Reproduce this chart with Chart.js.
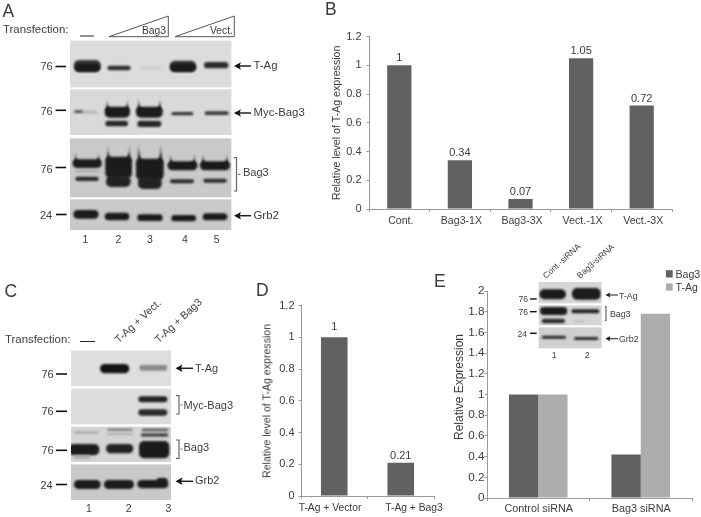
<!DOCTYPE html>
<html><head><meta charset="utf-8">
<script src="https://cdn.jsdelivr.net/npm/chart.js@4"></script>
<style>
html,body{margin:0;padding:0;background:#fff;}
#page{position:relative;width:701px;height:517px;overflow:hidden;font-family:"Liberation Sans",Arial,sans-serif;color:#3c3c3c;filter:blur(0.35px);}
canvas{position:absolute;}
.t{position:absolute;white-space:nowrap;line-height:1;}
</style></head><body><div id="page">
<canvas id="chartB"></canvas>
<canvas id="chartD"></canvas>
<canvas id="chartE"></canvas>
<canvas id="blots" width="701" height="517" style="left:0;top:0"></canvas>
</div>
<script>
// ---- data ----
const categoriesB = ['Cont.', 'Bag3-1X', 'Bag3-3X', 'Vect.-1X', 'Vect.-3X'];
const valuesB = [1, 0.34, 0.07, 1.05, 0.72];
const categoriesD = ['T-Ag + Vector', 'T-Ag + Bag3'];
const valuesD = [1, 0.21];
const categoriesE = ['Control siRNA', 'Bag3 siRNA'];
const bag3E = [1, 0.42];
const tagE = [1, 1.78];
const ticks12 = ['0', '0.2', '0.4', '0.6', '0.8', '1', '1.2'];
const ticks20 = ['0', '0.2', '0.4', '0.6', '0.8', '1', '1.2', '1.4', '1.6', '1.8', '2'];
const yTitleExpr = 'Relative level of T-Ag expression';
const yTitleRel = 'Relative Expression';
const DARK = '#616161', LIGHT = '#adadad', AXIS = '#9a9a9a', TXT = '#3c3c3c';
const FONT = '"Liberation Sans", Arial, sans-serif';

const valueLabels = {
  id: 'valueLabels',
  afterDatasetsDraw(chart, args, opts) {
    if (!opts.show) return;
    const ctx = chart.ctx; ctx.save();
    ctx.font = '11px ' + FONT; ctx.fillStyle = TXT;
    ctx.textAlign = 'center'; ctx.textBaseline = 'alphabetic';
    chart.getDatasetMeta(0).data.forEach((bar, i) => {
      ctx.fillText(String(chart.data.datasets[0].data[i]), bar.x, bar.y - opts.gaps[i]);
    });
    ctx.restore();
  }
};

function makeChart(id, box, plot, labels, datasets, o) {
  const c = document.getElementById(id);
  c.width = box.w; c.height = box.h;
  c.style.width = box.w + 'px'; c.style.height = box.h + 'px';
  c.style.left = box.left + 'px'; c.style.top = box.top + 'px';
  return new Chart(c, {
    type: 'bar',
    data: { labels, datasets },
    plugins: [valueLabels],
    options: {
      responsive: false, animation: false, devicePixelRatio: 1,
      layout: { padding: { left: 0, bottom: 0, top: plot.top - box.top, right: box.left + box.w - plot.right } },
      plugins: { legend: { display: false }, tooltip: { enabled: false }, title: { display: false },
        valueLabels: { show: !!o.gaps, gaps: o.gaps || [] } },
      datasets: { bar: { barPercentage: 1, categoryPercentage: o.cat, borderWidth: 0 } },
      scales: {
        x: {
          offset: true,
          grid: { display: true, offset: true, drawOnChartArea: false, drawTicks: true, tickLength: 3, color: AXIS, lineWidth: 1 },
          border: { display: true, color: AXIS, width: 1 },
          ticks: { display: !o.htmlX, color: TXT, font: { family: FONT, size: o.xSize }, padding: o.xPad, maxRotation: 0, autoSkip: false, labelOffset: o.xOff || 0 },
          afterFit(s) { s.height = box.top + box.h - plot.bottom; }
        },
        y: {
          min: 0, max: o.max,
          grid: { display: true, drawOnChartArea: false, drawTicks: true, tickLength: 2.5, color: AXIS, lineWidth: 1 },
          border: { display: true, color: AXIS, width: 1 },
          title: { display: !o.htmlTitle, text: o.title, color: TXT, font: { family: FONT, size: o.titleSize }, padding: 0 },
          ticks: { stepSize: 0.2, color: TXT, font: { family: FONT, size: o.ySize }, padding: o.yPad, autoSkip: false,
            callback: (v, i) => o.ticks[i] },
          afterFit(s) { s.width = plot.left - box.left; }
        }
      }
    }
  });
}

makeChart('chartB', { left: 331, top: 25, w: 347, h: 205 }, { left: 369, top: 35, right: 672, bottom: 209 },
  categoriesB, [{ label: 'T-Ag', data: valuesB, backgroundColor: DARK }],
  { gaps: [4, 4, 4, 4, 4], cat: 0.4, max: 1.2, title: yTitleExpr, titleSize: 10.6, ticks: ticks12, ySize: 11, yPad: 5, xSize: 10.6, xPad: 3, xOff: 1.5 });
makeChart('chartD', { left: 262, top: 295, w: 178, h: 215 }, { left: 301, top: 303, right: 434, bottom: 496 },
  categoriesD, [{ label: 'T-Ag', data: valuesD, backgroundColor: DARK }],
  { gaps: [7, 4], htmlX: true, htmlTitle: true, cat: 0.4, max: 1.2, ticks: ticks12, ySize: 11, yPad: 4 });
makeChart('chartE', { left: 453, top: 283, w: 246, h: 232 }, { left: 487, top: 291, right: 692, bottom: 498 },
  categoriesE, [{ label: 'Bag3', data: bag3E, backgroundColor: DARK }, { label: 'T-Ag', data: tagE, backgroundColor: LIGHT }],
  { htmlTitle: true, cat: 0.572, max: 2, ticks: ticks20, ySize: 11.7, yPad: 0, xSize: 10.8, xPad: 2, xOff: 0.5 });

// ---- text helper ----
const page = document.getElementById('page');
function txt(s, x, y, size, o) {
  o = o || {};
  const d = document.createElement('div');
  d.className = 't'; d.textContent = s;
  d.style.left = x + 'px'; d.style.top = y + 'px'; d.style.fontSize = size + 'px';
  let tf = 'translateY(-50%)';
  if (o.center) tf = 'translate(-50%,-50%)';
  if (o.rot !== undefined) { tf = 'translateY(-100%) rotate(' + o.rot + 'deg)'; d.style.transformOrigin = '0 100%'; }
  d.style.transform = tf;
  page.appendChild(d);
}
// axis texts placed off-centre, as in the figure
txt(yTitleExpr, 272, 478, 10.6, { rot: -90 });
txt(yTitleRel, 465, 440, 12, { rot: -90 });
txt(categoriesD[0], 330, 508, 10.3, { center: 1 });
txt(categoriesD[1], 414, 508, 10.3, { center: 1 });

// ---- blot artwork ----
const bc = document.getElementById('blots').getContext('2d');
function gel(x0, y0, x1, y1, col) { bc.filter = 'none'; bc.fillStyle = col; bc.fillRect(x0, y0, x1 - x0, y1 - y0); }
let bandClip = [0, 0, 701, 517];
function band(x0, y0, x1, y1, col, sp, blur) {
  bc.save();
  bc.beginPath(); bc.rect(bandClip[0], bandClip[1], bandClip[2] - bandClip[0], bandClip[3] - bandClip[1]); bc.clip();
  bc.filter = 'blur(' + (blur === undefined ? 1 : blur) + 'px)';
  bc.fillStyle = col;
  const r = Math.min((y1 - y0) / 2, 5);
  bc.beginPath(); bc.roundRect(x0, y0, x1 - x0, y1 - y0, r); bc.fill();
  if (sp) {
    // smear rising at both ends of an overloaded band, tapering to a point
    const w = Math.min(8, (x1 - x0) * 0.22);
    [[x0, x0 + w * 0.45, x0 + w * 1.3], [x1 - w * 1.3, x1 - w * 0.45, x1]].forEach(p => {
      bc.beginPath(); bc.moveTo(p[0], y0 + 4);
      bc.quadraticCurveTo(p[1], y0 + 1, p[1], y0 - sp);
      bc.quadraticCurveTo(p[1], y0 + 1, p[2], y0 + 4);
      bc.closePath(); bc.fill();
    });
  }
  bc.restore();
}
function row(x0, y0, x1, y1, col, bands) {
  gel(x0, y0, x1, y1, col);
  bandClip = [x0, y0, x1, y1];
  bands.forEach(b => band.apply(null, b));
}
const K = '#1b1b1b';
const z = (a, ox, oy) => [ox + a[0] / 3, oy + a[1] / 3, ox + a[2] / 3, oy + a[3] / 3, a[4] || K, (a[5] || 0) / 3, a[6]];
function zrow(ox, oy, r, col, bands) {
  row(ox + r[0] / 3, oy + r[1] / 3, ox + r[2] / 3, oy + r[3] / 3, col, bands.map(b => z(b, ox, oy)));
}
// Panel A
zrow(0, 0, [210, 122, 694, 262], '#dcdcdc', [
  [222, 180, 302, 215, '#3a3a3a', 0], [224, 190, 300, 215], [322, 197, 392, 211, '#2e2e2e'], [420, 201, 482, 207, '#c6c6c6'],
  [510, 182, 588, 215, '#3a3a3a'], [510, 190, 588, 215], [612, 186, 685, 205, '#2a2a2a']]);
zrow(0, 0, [210, 268, 694, 405], '#d9d9d9', [
  [222, 331, 250, 339, '#555'], [250, 334, 292, 340, '#a8a8a8'],
  [314, 320, 390, 353, K, 24], [316, 362, 384, 379, '#262626'],
  [408, 320, 488, 353, K, 26], [412, 362, 484, 381, '#262626'],
  [514, 336, 580, 346, '#333'], [614, 334, 686, 345, '#3a3a3a']]);
zrow(0, 0, [210, 415, 694, 592], '#c9c9c9', [
  [218, 478, 305, 504, K, 20], [226, 510, 296, 516, '#a4a4a4'], [226, 530, 296, 543, '#2a2a2a'],
  [316, 470, 396, 535, K, 36], [318, 528, 392, 561, '#222'],
  [408, 476, 491, 540, K, 54], [414, 530, 485, 567, '#222'],
  [503, 484, 592, 511, K, 22], [510, 538, 582, 550, '#2a2a2a'],
  [600, 484, 690, 511, K, 22], [610, 536, 680, 548, '#2a2a2a']]);
zrow(0, 0, [210, 598, 694, 690], '#c9c9c9', [
  [220, 630, 296, 656], [314, 638, 388, 661], [412, 643, 488, 663], [514, 645, 588, 664], [608, 640, 682, 661]]);
// Panel C
zrow(0, 270, [213, 242, 513, 348], '#dedede', [[300, 282, 388, 310, '#141414'], [418, 285, 502, 302, '#8a8a8a']]);
zrow(0, 270, [213, 356, 513, 463], '#dcdcdc', [[415, 379, 502, 397, '#222'], [415, 418, 502, 437, '#2a2a2a']]);
zrow(0, 270, [213, 470, 513, 576], '#d4d4d4', [
  [222, 485, 295, 490, '#909090'], [322, 476, 398, 482, '#707070'], [322, 490, 398, 494, '#a0a0a0'],
  [425, 476, 505, 484, '#555'], [422, 490, 505, 500, '#444'],
  [205, 522, 298, 556, '#1c1c1c'], [220, 556, 270, 566, '#a8a8a8'], [318, 522, 400, 550, '#222'],
  [417, 513, 508, 565, K]]);
zrow(0, 270, [213, 583, 513, 690], '#c9c9c9', [[222, 630, 302, 657], [312, 630, 402, 657], [412, 630, 505, 655], [470, 624, 502, 640]]);
// Panel E inset
zrow(440, 260, [296, 66, 485, 130], '#d6d6d6', [[298, 88, 378, 118], [396, 84, 482, 119]]);
zrow(440, 260, [296, 136, 485, 196], '#d6d6d6', [[300, 141, 382, 165], [305, 176, 375, 190, '#2c2c2c'], [394, 148, 478, 160, '#222'], [405, 182, 430, 186, '#b0b0b0']]);
zrow(440, 260, [296, 202, 485, 265], '#d0d0d0', [[305, 227, 378, 236, '#2a2a2a'], [402, 231, 475, 240, '#2a2a2a']]);

bc.filter = 'none';
function seg(x0, y0, x1, y1, w, col) { bc.strokeStyle = col || '#222'; bc.lineWidth = w; bc.beginPath(); bc.moveTo(x0, y0); bc.lineTo(x1, y1); bc.stroke(); }
function arrow(xTip, xEnd, y, s) {
  s = s || 1;
  seg(xTip + 3 * s, y, xEnd, y, 1.5 * s);
  bc.fillStyle = '#111'; bc.beginPath(); bc.moveTo(xTip, y); bc.lineTo(xTip + 7 * s, y - 3.7 * s); bc.lineTo(xTip + 5.5 * s, y); bc.lineTo(xTip + 7 * s, y + 3.7 * s); bc.closePath(); bc.fill();
}
function bracket(x0, x1, y0, y1, midLen) {
  bc.strokeStyle = '#666'; bc.lineWidth = 1.2; bc.beginPath();
  bc.moveTo(x0, y0); bc.lineTo(x1, y0); bc.lineTo(x1, y1); bc.lineTo(x0, y1); bc.stroke();
  if (midLen) seg(x1 + 1.5, (y0 + y1) / 2, x1 + 1.5 + midLen, (y0 + y1) / 2, 1, '#666');
}
function wedge(x0, x1, yTop, yBot) {
  bc.strokeStyle = '#444'; bc.lineWidth = 0.9; bc.beginPath();
  bc.moveTo(x0, yBot); bc.lineTo(x1, yTop); bc.lineTo(x1, yBot); bc.closePath(); bc.stroke();
}
function marker(label, xText, x0, x1, yText, yDash, size, w) {
  seg(x0, yDash, x1, yDash, w || 1.6, '#111');
  txt(label, xText, yText, size || 11);
}

// --- Panel A annotation
txt('A', 2.5, 11.5, 17.5); txt('Transfection:', 3, 30, 11.4);
seg(80, 36, 94, 36, 1, '#222');
wedge(109, 168.3, 16, 36.7); wedge(175, 234.3, 16, 36.7);
txt('Bag3', 142, 30.5, 10.3); txt('Vect.', 210, 30.5, 10.3);
marker('76', 40.5, 55.5, 66, 65.5, 66.5);
marker('76', 40.5, 55.5, 66, 111, 110.3);
marker('76', 40.5, 55.5, 66, 168.5, 167.5);
marker('24', 40, 56, 66.7, 214.5, 214.5);
arrow(234, 251, 66); txt('T-Ag', 253.5, 66, 11.4);
arrow(234, 251, 113); txt('Myc-Bag3', 253.5, 113, 11.4);
bracket(234, 236.5, 157.7, 191, 2.5); txt('Bag3', 243, 171.5, 11);
arrow(234, 251, 215.7); txt('Grb2', 253.5, 215.7, 11.4);
[['1', 85.3], ['2', 118.3], ['3', 150], ['4', 185], ['5', 216.7]].forEach(l => txt(l[0], l[1], 238.5, 10.5, { center: 1 }));
// --- Panel B letter
txt('B', 325, 10, 17.5);
// --- Panel C annotation
txt('C', 4.5, 292, 17.5); txt('Transfection:', 5, 339.5, 11.4);
seg(80, 341.5, 95, 341.5, 1, '#222');
txt('T-Ag + Vect.', 120, 345, 10.7, { rot: -43 });
txt('T-Ag + Bag3', 160, 345, 10.7, { rot: -43 });
marker('76', 41.5, 56, 67, 374, 374);
marker('76', 41.5, 56, 67, 411.3, 411.3);
marker('76', 41.5, 56, 67, 450.3, 450.3);
marker('24', 40.5, 56, 67, 484.5, 484.5);
arrow(175.5, 193, 368.3); txt('T-Ag', 195, 367.5, 11);
bracket(176, 179, 395.7, 414, 2); txt('Myc-Bag3', 183.5, 405, 11);
bracket(176, 179, 440, 458.3, 2); txt('Bag3', 183.5, 446.5, 11);
arrow(175.5, 193, 481.3); txt('Grb2', 195, 479.5, 11);
[['1', 89], ['2', 128.7], ['3', 168.3]].forEach(l => txt(l[0], l[1], 508, 10.5, { center: 1 }));
// --- Panel D, E letters
txt('D', 256, 291, 17.5); txt('E', 434, 281.5, 17.5);
// --- Panel E inset annotation
txt('Cont.-siRNA', 547, 280, 8.5, { rot: -42 });
txt('Bag3-siRNA', 581, 280, 8.5, { rot: -42 });
marker('76', 518.5, 530, 536.7, 299, 299, 8.6, 1.4);
marker('76', 518.5, 530, 536.7, 312, 311.7, 8.6, 1.4);
marker('24', 517.5, 530, 536.7, 333.7, 333.3, 8.6, 1.4);
arrow(605.5, 618, 295, 0.7); txt('T-Ag', 619, 295.5, 8.8);
bracket(605, 606, 306.7, 320.3, 0); txt('Bag3', 610, 313.5, 8.8);
arrow(605.5, 618, 338.7, 0.7); txt('Grb2', 619, 339, 8.8);
[['1', 554.3], ['2', 587.3]].forEach(l => txt(l[0], l[1], 354.5, 8.8, { center: 1 }));
// legend of chart E, built from its dataset names and colours
const chartE = Chart.getChart('chartE');
chartE.data.datasets.forEach((d, i) => {
  const y = 274 + i * 13.2;
  gel(666, y - 3.8, 672.7, y + 3.5, d.backgroundColor);
  txt(d.label, 675.5, y - 0.5, 10.6);
});
</script></body></html>
